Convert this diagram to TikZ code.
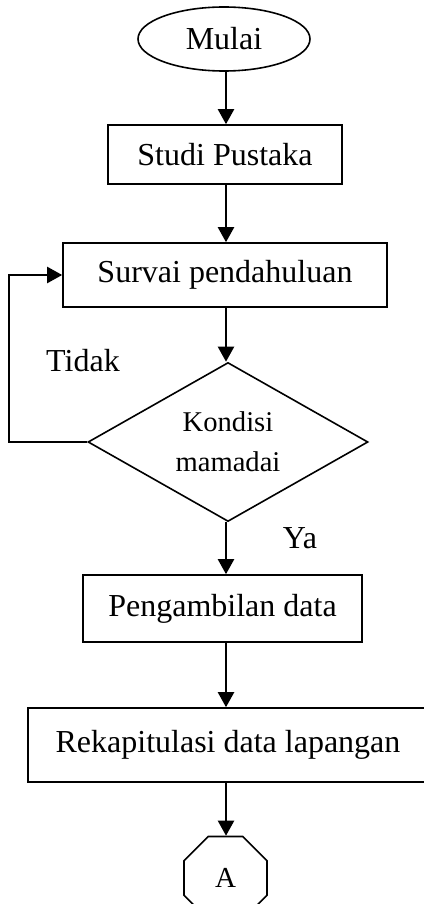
\documentclass[tikz,border=0pt]{standalone}
\usepackage{fontspec}
\setmainfont{Liberation Serif}
\usetikzlibrary{arrows.meta,shapes.geometric}

\tikzset{
  kotak/.style={draw, line width=0.8pt, inner sep=0pt, font=\fontsize{16}{19}\selectfont},
  panah/.style={line width=1.1pt, -{Triangle[length=7.5pt,width=8pt]}},
  teks/.style={font=\fontsize{16}{19}\selectfont}
}

\begin{document}
\begin{tikzpicture}[x=0.5pt,y=-0.5pt]
  \useasboundingbox (0,0) rectangle (423,904);
  % Langkah-langkah
  \node[kotak, ellipse, minimum width=86pt, minimum height=32pt] (mulai) at (224,39) {Mulai};
  \node[kotak, minimum width=117pt, minimum height=29.5pt] (studi) at (225,154.5) {Studi Pustaka};
  \node[kotak, minimum width=162pt, minimum height=32pt] (survai) at (225,275) {Survai pendahuluan};
  \node[kotak, diamond, aspect=1.76, minimum width=140pt, minimum height=79.5pt,
        font=\fontsize{14.3}{20}\selectfont, align=center] (kondisi) at (228,442) {Kondisi\\mamadai};
  \node[kotak, minimum width=139.5pt, minimum height=33.5pt] (ambil) at (222.5,608.5) {Pengambilan data};
  \node[kotak, minimum width=200pt, minimum height=37pt] (rekap) at (228,745) {Rekapitulasi data lapangan};
  % Penghubung halaman
  \node[kotak, regular polygon, regular polygon sides=8, minimum size=44.9pt,
        font=\fontsize{14.5}{17}\selectfont] (sambung) at (225.5,878) {A};
  % Label cabang
  \node[teks] (tidak) at (83,361) {Tidak};
  \node[teks] (ya) at (300,538) {Ya};
  % Panah
  \coordinate (poros) at (226,0);
  \draw[panah] (mulai.south -| poros) -- (studi.north -| poros);
  \draw[panah] (studi.south -| poros) -- (survai.north -| poros);
  \draw[panah] (survai.south -| poros) -- (kondisi.north -| poros);
  \draw[panah] (kondisi.south -| poros) -- (ambil.north -| poros);
  \draw[panah] (ambil.south -| poros) -- (rekap.north -| poros);
  \draw[panah] (rekap.south -| poros) -- (sambung.north -| poros);
  % Kembali jika tidak memadai
  \draw[panah] (kondisi.west) -- ++(-78,0) |- (survai.west);
\end{tikzpicture}
\end{document}
